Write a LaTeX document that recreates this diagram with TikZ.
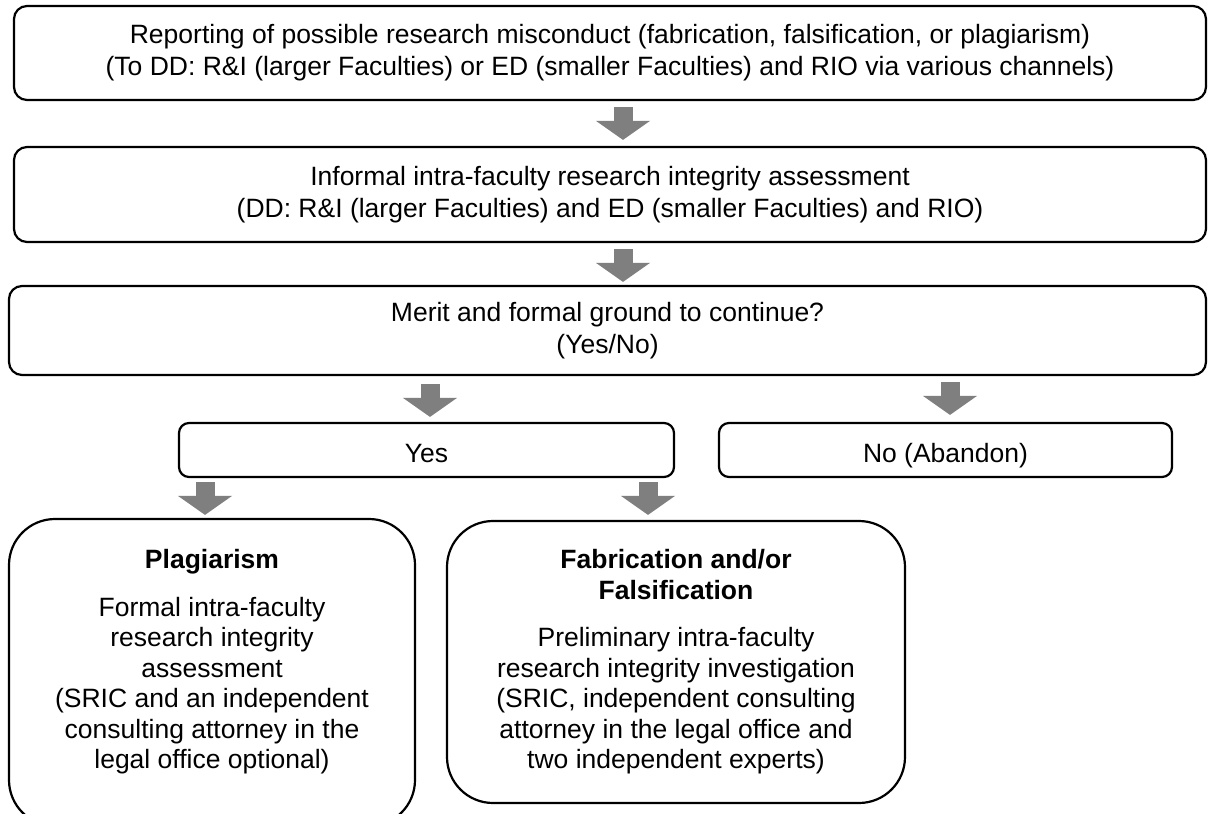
\documentclass[tikz,border=0pt]{standalone}
\usepackage{fontspec}
\setmainfont{Liberation Sans}
\usetikzlibrary{arrows.meta}
\begin{document}
\begin{tikzpicture}[x=1pt,y=-1pt,
  flowbox/.style={draw=black, line width=2.2pt, rounded corners=13pt, inner sep=0pt,
    align=center, font=\fontsize{26.5}{32}\selectfont},
  smallbox/.style={flowbox, rounded corners=10pt, text height=24pt, text depth=0pt},
  bigbox/.style={flowbox, rounded corners=46pt, font=\fontsize{26.5}{30.5}\selectfont},
  plaintext/.style={inner sep=0pt, align=center, font=\fontsize{26.5}{30.5}\selectfont},
  blockarrow/.style={draw={rgb,255:red,127;green,127;blue,127}, line width=19pt, line cap=butt,
    -{Triangle[width=54pt,length=19pt,line width=0pt,fill={rgb,255:red,127;green,127;blue,127}]}}
]
\useasboundingbox[fill=white] (0,0) rectangle (1208,814);

\node[flowbox, minimum width=1192pt, minimum height=94pt] (b1) at (610,53)
  {Reporting of possible research misconduct (fabrication, falsification, or plagiarism)\\
   (To DD: R\&I (larger Faculties) or ED (smaller Faculties) and RIO via various channels)};
\node[flowbox, minimum width=1192pt, minimum height=95pt] (b2) at (610,194.5)
  {Informal intra-faculty research integrity assessment\\
   (DD: R\&I (larger Faculties) and ED (smaller Faculties) and RIO)};
\node[flowbox, minimum width=1197pt, minimum height=89pt] (b3) at (607.5,330.5)
  {Merit and formal ground to continue?\\(Yes/No)};
\node[smallbox, minimum width=495pt, minimum height=54pt] (yes) at (426.5,450) {Yes};
\node[smallbox, minimum width=453pt, minimum height=54pt] (no) at (945.5,450) {No (Abandon)};
\node[bigbox, minimum width=406pt, minimum height=307pt] (plag) at (212,672.5) {};
\node[plaintext] (plagtext) at (212,662)
  {\textbf{Plagiarism}\\[17pt]
   Formal intra-faculty\\research integrity\\assessment\\(SRIC and an independent\\
   consulting attorney in the\\legal office optional)};
\node[bigbox, minimum width=458pt, minimum height=282pt] (fab) at (676,662)
  {\textbf{Fabrication and/or}\\\textbf{Falsification}\\[17pt]
   Preliminary intra-faculty\\research integrity investigation\\(SRIC, independent consulting\\
   attorney in the legal office and\\two independent experts)};

\draw[blockarrow, shorten <=6pt, shorten >=6pt] ([xshift=13pt]b1.south) -- ([xshift=13pt]b1.south |- b2.north);
\draw[blockarrow, shorten <=6pt, shorten >=3pt] ([xshift=13pt]b2.south) -- ([xshift=13pt]b2.south |- b3.north);
\draw[blockarrow, shorten <=8pt, shorten >=5pt] ([xshift=3.5pt]yes.north |- b3.south) -- ([xshift=3.5pt]yes.north);
\draw[blockarrow, shorten <=6pt, shorten >=7pt] ([xshift=4.5pt]no.north |- b3.south) -- ([xshift=4.5pt]no.north);
\draw[blockarrow, shorten <=4pt, shorten >=3pt] ([xshift=-7pt]plag.north |- yes.south) -- ([xshift=-7pt]plag.north);
\draw[blockarrow, shorten <=4pt, shorten >=5pt] ([xshift=-28pt]fab.north |- yes.south) -- ([xshift=-28pt]fab.north);
\end{tikzpicture}
\end{document}
